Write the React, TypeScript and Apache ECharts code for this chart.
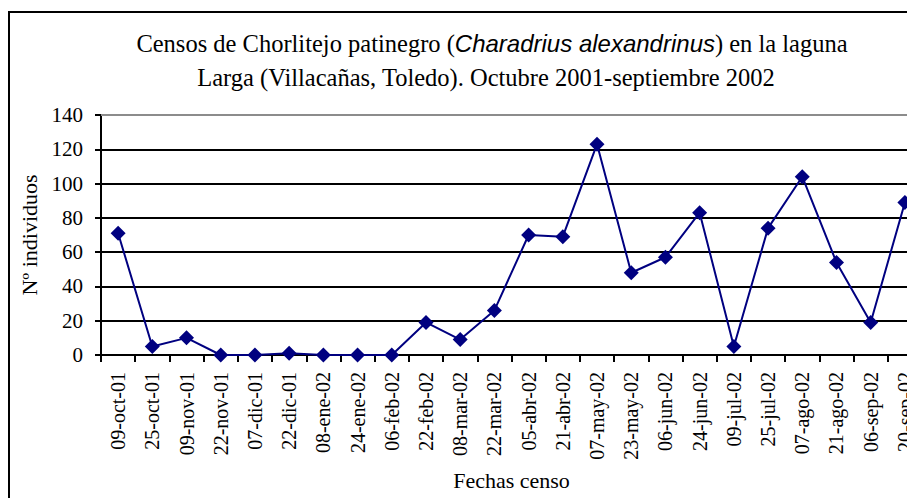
import React, { useEffect, useRef } from "react";
import * as echarts from "echarts";

const categories = [
  "09-oct-01", "25-oct-01", "09-nov-01", "22-nov-01", "07-dic-01", "22-dic-01",
  "08-ene-02", "24-ene-02", "06-feb-02", "22-feb-02", "08-mar-02", "22-mar-02",
  "05-abr-02", "21-abr-02", "07-may-02", "23-may-02", "06-jun-02", "24-jun-02",
  "09-jul-02", "25-jul-02", "07-ago-02", "21-ago-02", "06-sep-02", "20-sep-02",
];
const individuos = [
  71, 5, 10, 0, 0, 1, 0, 0, 0, 19, 9, 26,
  70, 69, 123, 48, 57, 83, 5, 74, 104, 54, 19, 89,
];
const yMin = 0;
const yMax = 140;
const yStep = 20;
const titleLine1Parts = ["Censos de Chorlitejo patinegro (", "Charadrius alexandrinus", ") en la laguna"];
const titleLine2 = "Larga (Villacañas, Toledo). Octubre 2001-septiembre 2002";
const yAxisName = "Nº individuos";
const xAxisName = "Fechas censo";

const SERIF = "'Liberation Serif', 'Times New Roman', serif";
const SANS = "'Liberation Sans', Arial, sans-serif";

export default function App() {
  const ref = useRef<HTMLDivElement>(null);
  useEffect(() => {
    if (!ref.current) return;
    const chart = echarts.init(ref.current, null, { renderer: "svg" });
    chart.setOption({
      animation: false,
      backgroundColor: "#fff",
      grid: { left: 101, right: 18, top: 115, bottom: 143, containLabel: false },
      graphic: [
        {
          type: "rect",
          shape: { x: 9, y: 12, width: 1000, height: 600 },
          style: { fill: "none", stroke: "#000", lineWidth: 2 },
          silent: true,
        },
        {
          type: "text",
          x: 492,
          y: 43,
          style: {
            text: `{a|${titleLine1Parts[0]}}{b|${titleLine1Parts[1]}}{a|${titleLine1Parts[2]}}`,
            rich: {
              a: { fontFamily: SERIF, fontSize: 24.5, fill: "#000" },
              b: { fontFamily: SANS, fontStyle: "italic", fontSize: 24, fill: "#000" },
            },
            align: "center",
            verticalAlign: "middle",
          },
        },
        {
          type: "text",
          x: 486,
          y: 77,
          style: {
            text: titleLine2,
            fontFamily: SERIF,
            fontSize: 24.5,
            fill: "#000",
            align: "center",
            verticalAlign: "middle",
          },
        },
      ],
      xAxis: {
        type: "category",
        data: categories,
        boundaryGap: true,
        name: xAxisName,
        nameLocation: "middle",
        nameGap: 114,
        nameTextStyle: { fontFamily: SERIF, fontSize: 22, color: "#000" },
        axisLine: { show: true, lineStyle: { color: "#000", width: 2 } },
        axisTick: { show: true, interval: 0, length: 7, lineStyle: { color: "#000", width: 2 } },
        axisLabel: {
          interval: 0,
          rotate: 90,
          margin: 17,
          fontFamily: SERIF,
          fontSize: 20,
          color: "#000",
        },
        splitLine: { show: false },
      },
      yAxis: {
        type: "value",
        min: yMin,
        max: yMax,
        interval: yStep,
        name: yAxisName,
        nameLocation: "middle",
        nameRotate: 90,
        nameGap: 60,
        nameTextStyle: { fontFamily: SERIF, fontSize: 22, color: "#000" },
        axisLine: { show: true, lineStyle: { color: "#000", width: 2 } },
        axisTick: { show: true, length: 6, lineStyle: { color: "#000", width: 2 } },
        axisLabel: { margin: 18, fontFamily: SERIF, fontSize: 21, color: "#000" },
        splitLine: { show: true, lineStyle: { color: "#000", width: 2 } },
      },
      series: [
        {
          type: "line",
          data: individuos,
          color: "#000080",
          lineStyle: { color: "#000080", width: 2 },
          itemStyle: { color: "#000080" },
          symbol: "diamond",
          symbolSize: 15,
          showAllSymbol: true,
          clip: false,
          z: 3,
          markLine: {
            silent: true,
            symbol: "none",
            label: { show: false },
            lineStyle: { color: "#8c8c8c", width: 2, type: "solid" },
            data: [{ yAxis: yMax }],
            z: 1,
          },
        },
      ],
    });
    return () => chart.dispose();
  }, []);
  return (
    <div
      style={{
        position: "fixed",
        left: 0,
        top: 0,
        width: 907,
        height: 498,
        overflow: "hidden",
        background: "#fff",
      }}
    >
      <div ref={ref} style={{ width: 940, height: 498 }} />
    </div>
  );
}
